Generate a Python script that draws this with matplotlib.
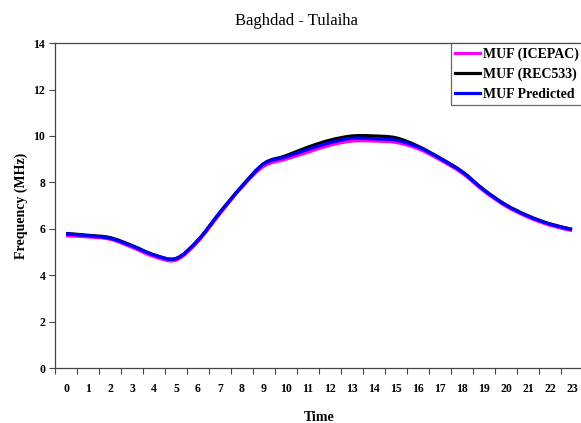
import numpy as np
import matplotlib
matplotlib.use('Agg')
import matplotlib.pyplot as plt
from matplotlib.path import Path
from matplotlib.patches import PathPatch
from matplotlib.lines import Line2D


hours = list(range(24))
muf_icepac = [5.70, 5.65, 5.55, 5.20, 4.80, 4.65, 5.45, 6.65, 7.80, 8.70,
              9.00, 9.30, 9.60, 9.78, 9.78, 9.72, 9.45, 8.97, 8.40, 7.62,
              6.97, 6.50, 6.15, 5.92]
muf_rec533 = [5.80, 5.72, 5.62, 5.28, 4.88, 4.72, 5.52, 6.72, 7.85, 8.82,
              9.15, 9.52, 9.82, 10.00, 10.00, 9.92, 9.56, 9.05, 8.47, 7.68,
              7.03, 6.56, 6.21, 5.98]
muf_predicted = [5.78, 5.70, 5.59, 5.26, 4.87, 4.72, 5.50, 6.70, 7.82, 8.80,
                 9.10, 9.42, 9.71, 9.90, 9.88, 9.82, 9.53, 9.03, 8.46, 7.67,
                 7.02, 6.55, 6.20, 5.97]
series_labels = ['MUF (ICEPAC)', 'MUF (REC533)', 'MUF Predicted']
series_colors = ['#ff00ff', '#000000', '#0000ff']


def smooth_path(x, y):
    """
    Builds a cubic Bezier path through the points (Excel style smoothed line)
    """
    pts = np.column_stack([x, y]).astype(float)
    n = len(pts)
    verts = [pts[0]]
    codes = [Path.MOVETO]
    for i in range(n - 1):
        p0 = pts[i - 1] if i > 0 else pts[i]
        p1 = pts[i]
        p2 = pts[i + 1]
        p3 = pts[i + 2] if i + 2 < n else pts[i + 1]
        c1 = p1 + (p2 - p0) / 6.0
        c2 = p2 - (p3 - p1) / 6.0
        verts += [c1, c2, p2]
        codes += [Path.CURVE4] * 3
    return Path(verts, codes)


serif = ['Liberation Serif', 'DejaVu Serif']
plt.rcParams['font.family'] = serif

fig = plt.figure(figsize=(5.81, 4.23), dpi=100)
ax = fig.add_axes([0.0947, 0.130, 0.9088, 0.768])

handles = []
for values, label, color in zip([muf_icepac, muf_rec533, muf_predicted], series_labels, series_colors):
    patch = PathPatch(smooth_path(hours, values), fill=False, edgecolor=color,
                      linewidth=2.3, capstyle='butt', joinstyle='round')
    ax.add_patch(patch)
    handles.append(Line2D([], [], color=color, linewidth=2.3, label=label))

ax.set_xlim(-0.5, 23.5)
ax.set_ylim(0, 14)

# category axis: ticks between hours, labels centred on them
ax.set_xticks(np.arange(-0.5, 24, 1))
ax.set_xticklabels([])
ax.set_xticks(hours, minor=True)
ax.set_xticklabels([str(h) for h in hours], minor=True)
ax.tick_params(axis='x', which='major', length=4, width=0.8, direction='out', color='#444444')
ax.tick_params(axis='x', which='minor', length=0, pad=11)
ax.set_yticks(np.arange(0, 15, 2))
ax.tick_params(axis='y', length=4, width=0.8, direction='out', color='#444444', pad=3)

for lbl in ax.get_xticklabels(minor=True) + ax.get_yticklabels():
    lbl.set_fontsize(8.5)
    lbl.set_fontweight('bold')

for side in ['left', 'top', 'bottom', 'right']:
    ax.spines[side].set_color('#444444')
    ax.spines[side].set_linewidth(0.9)

ax.set_xlabel('Time', fontsize=10, fontweight='bold', labelpad=11)
ax.set_ylabel('Frequency (MHz)', fontsize=10, fontweight='bold', labelpad=4)
fig.text(0.51, 0.941, 'Baghdad - Tulaiha', ha='center', va='baseline', fontsize=12)

leg = ax.legend(handles=handles, loc='upper right', bbox_to_anchor=(1.0, 1.0),
                prop={'family': serif, 'weight': 'bold', 'size': 10},
                frameon=True, fancybox=False, borderpad=0.3, labelspacing=0.5,
                handlelength=1.8, handletextpad=0.2, borderaxespad=0)
leg.get_frame().set_edgecolor('#444444')
leg.get_frame().set_linewidth(0.9)

fig.savefig('out.png', dpi=100)
